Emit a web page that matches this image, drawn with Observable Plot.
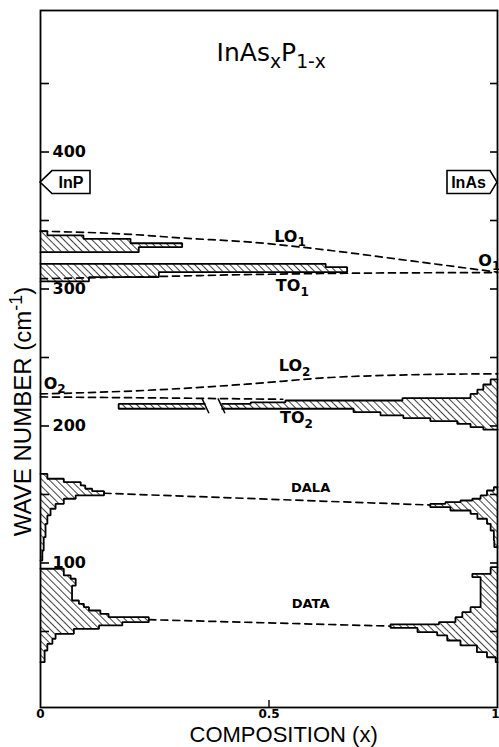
<!DOCTYPE html>
<html><head><meta charset="utf-8">
<script src="https://cdn.jsdelivr.net/npm/d3@7"></script>
<script src="https://cdn.jsdelivr.net/npm/@observablehq/plot@0.6"></script>
<style>
html,body{margin:0;padding:0;background:#fff;}
#chart{width:499px;height:747px;overflow:hidden;}
</style></head><body><div id="chart"></div>
<script>
// ---------------- data ----------------
const xTickLabelValues = [0, 0.5];
const xTickLabels = ["0", "0.5"];
const xEndTickValue = 1;
const xEndTickLabel = "1";
const yTickValues = [50, 100, 150, 200, 250, 300, 350, 400, 450];
const yTickLabelValues = [100, 200, 300, 400];

// histograms: bin edges (cm-1, top -> bottom) and bar lengths (composition units from the axis)
const lo1LeftEdges = [342.2, 339.1, 336.6, 333.4, 330.5, 326.9];
const lo1LeftLens  = [0.015, 0.094, 0.197, 0.310, 0.215];
const to1LeftEdges = [318.4, 315.9, 312.3, 308.6, 305.5];
const to1LeftLens  = [0.624, 0.671, 0.259, 0.106];
const to2RightEdges = [234.0, 230.3, 226.6, 223.4, 220.4, 218.6, 217.2, 216.1, 212.6, 210.1, 207.7, 205.8, 203.6, 201.5, 199.1, 197.4];
const to2RightLens  = [0.015, 0.031, 0.044, 0.059, 0.208, 0.464, 0.540, 0.829, 0.315, 0.256, 0.206, 0.147, 0.088, 0.059, 0.031];
const dalaLeftEdges = [165.1, 161.5, 159.0, 156.6, 154.2, 152.4, 149.3, 146.9, 143.2, 139.6, 134.7, 128.6, 118.8, 109.1, 101.8];
const dalaLeftLens  = [0.015, 0.051, 0.088, 0.098, 0.113, 0.139, 0.077, 0.051, 0.033, 0.022, 0.015, 0.011, 0.007, 0.004];
const dalaRightEdges = [155.3, 152.9, 149.3, 146.9, 145.6, 144.4, 143.2, 140.7, 138.3, 135.9, 132.3, 128.6, 123.7, 116.4, 111.5];
const dalaRightLens  = [0.008, 0.023, 0.037, 0.055, 0.081, 0.114, 0.147, 0.103, 0.059, 0.044, 0.023, 0.015, 0.008, 0.007];
const dataLeftEdges = [95.8, 90.9, 88.5, 83.4, 72.6, 70.2, 67.7, 65.3, 62.9, 60.4, 56.8, 54.4, 51.9, 48.3, 44.7, 41.0, 36.1, 27.6];
const dataLeftLens  = [0.051, 0.066, 0.077, 0.069, 0.084, 0.095, 0.106, 0.131, 0.149, 0.237, 0.179, 0.128, 0.073, 0.033, 0.026, 0.015, 0.009];
const dataRightEdges = [96.9, 92.1, 89.6, 67.7, 64.1, 60.4, 56.8, 55.2, 52.6, 49.5, 47.1, 43.4, 39.8, 34.9, 31.2, 27.6];
const dataRightLens  = [0.015, 0.055, 0.037, 0.059, 0.077, 0.092, 0.128, 0.234, 0.175, 0.132, 0.110, 0.081, 0.045, 0.023, 0.004];

// dashed mode-frequency curves
const lo1X = [0, 0.2, 0.31, 0.46, 0.635, 0.8, 1];
const lo1Y = [342.2, 339.8, 337.2, 334.2, 328.1, 321.0, 312.3];
const to1X = [0, 0.24, 0.45, 0.67, 1];
const to1Y = [307.5, 309.0, 310.5, 311.5, 312.0];
const lo2X = [0, 0.25, 0.45, 0.635, 0.8, 1];
const lo2Y = [223.4, 226.3, 230.5, 235.4, 237.3, 238.1];
const to2X = [0, 0.25, 0.53];
const to2Y = [221.2, 220.5, 219.5];
const dalaX = [0.139, 0.853];
const dalaY = [150.9, 142.3];
const dataX = [0.237, 0.766];
const dataY = [58.6, 53.9];

// scale break drawn on the TO2 bar
const breakX = [0.362, 0.397];
const breakY = [212.6, 216.1];

// labels
const opticLabels = ["LO_{1}", "TO_{1}", "LO_{2}", "TO_{2}"];
const opticLabelX = [0.546, 0.551, 0.556, 0.560];
const opticLabelY = [338.3, 302.0, 243.6, 205.8];
const acousticLabels = ["DALA", "DATA"];
const acousticLabelX = [0.591, 0.591];
const acousticLabelY = [155.1, 70.4];
const endLabels = ["O_{1}", "O_{2}"];
const endLabelX = [0.958, 0.007];
const endLabelY = [320.8, 231.0];
const tagText = ["InP", "InAs"];
const tagX = [0, 1];
const tagY = [377.7, 377.7];
const titleText = "InAs_{x}P_{1-x}";
const titleX = 0.505, titleY = 472.3;
const xTitle = "COMPOSITION (x)";
const xTitleX = 0.532;
const yTitle = "WAVE NUMBER (cm^{-1})";
const yTitleY = 210.6;

// ---------------- helpers ----------------
const yDomain = [-5.5, 503.3];
const zip = (xs, ys) => xs.map((x, i) => ({x, y: ys[i]}));
function bins(edges, lens, side) {
  return lens.map((l, i) => ({
    x1: side === "left" ? 0 : 1 - l,
    x2: side === "left" ? l : 1,
    y1: edges[i], y2: edges[i + 1]
  }));
}
function outline(edges, lens, side) {
  const b = side === "left" ? 0 : 1;
  const f = l => side === "left" ? l : 1 - l;
  const pts = [{x: b, y: edges[0]}];
  lens.forEach((l, i) => { pts.push({x: f(l), y: edges[i]}); pts.push({x: f(l), y: edges[i + 1]}); });
  pts.push({x: b, y: edges[edges.length - 1]});
  return pts;
}
const hists = [
  [lo1LeftEdges, lo1LeftLens, "left"],
  [to1LeftEdges, to1LeftLens, "left"],
  [to2RightEdges, to2RightLens, "right"],
  [dalaLeftEdges, dalaLeftLens, "left"],
  [dalaRightEdges, dalaRightLens, "right"],
  [dataLeftEdges, dataLeftLens, "left"],
  [dataRightEdges, dataRightLens, "right"]
];
const dashed = [[lo1X, lo1Y], [to1X, to1Y], [lo2X, lo2Y], [to2X, to2Y], [dalaX, dalaY], [dataX, dataY]];

const SANS = "Liberation Sans, Arial, sans-serif";
const WIDE = "DejaVu Sans, Verdana, sans-serif";

function breakMark(index, scales) {
  const {x, y} = scales;
  const g = d3.create("svg:g");
  const top = y(breakY[1]), bot = y(breakY[0]);
  g.append("rect").attr("x", x(breakX[0])).attr("width", x(breakX[1]) - x(breakX[0]))
    .attr("y", top - 2).attr("height", bot - top + 4).attr("fill", "white");
  for (const bx of breakX) {
    const cx = x(bx);
    g.append("line").attr("x1", cx - 3.5).attr("y1", top - 5).attr("x2", cx + 3.5).attr("y2", bot + 5)
      .attr("stroke", "black").attr("stroke-width", 1.5);
  }
  return g.node();
}
function tagMark(index, scales) {
  const {x, y} = scales;
  const g = d3.create("svg:g");
  const points = [12, 7];
  for (let i = 0; i < tagText.length; i++) {
    const px = x(tagX[i]), py = y(tagY[i]);
    const dir = tagX[i] < 0.5 ? 1 : -1;
    const h = 11.5, p = points[i], w = 50;
    const pts = [[px, py], [px + dir * p, py - h], [px + dir * w, py - h], [px + dir * w, py + h], [px + dir * p, py + h]];
    g.append("path").attr("d", "M" + pts.map(q => q.join(",")).join("L") + "Z")
      .attr("fill", "white").attr("stroke", "black").attr("stroke-width", 1.6).attr("stroke-linejoin", "miter");
    g.append("text").attr("x", px + dir * (p + w) / 2).attr("y", py).attr("dy", "0.36em")
      .attr("text-anchor", "middle").attr("font-family", SANS).attr("font-weight", "bold")
      .attr("font-size", 16).attr("fill", "black").text(tagText[i]);
  }
  return g.node();
}

const plot = Plot.plot({
  width: 499, height: 747,
  marginTop: 10, marginRight: 2, marginBottom: 40, marginLeft: 40,
  x: {domain: [0, 1], axis: null},
  y: {domain: yDomain, axis: null},
  style: {background: "white", color: "black", fontFamily: SANS},
  marks: [
    ...hists.map(([e, l, s]) => Plot.rect(bins(e, l, s), {x1: "x1", x2: "x2", y1: "y1", y2: "y2", fill: "url(#hatch)"})),
    ...hists.map(([e, l, s]) => Plot.line(outline(e, l, s), {x: "x", y: "y", stroke: "black", strokeWidth: 1.8, strokeLinejoin: "miter"})),
    breakMark,
    ...dashed.map(([xs, ys]) => Plot.line(zip(xs, ys), {x: "x", y: "y", stroke: "black", strokeWidth: 1.7, strokeDasharray: "7,5", curve: "monotone-x"})),
    Plot.frame({stroke: "black", strokeWidth: 1.8}),
    Plot.ruleY(yTickValues, {y: d => d, x1: 0, x2: 0, insetRight: -9, stroke: "black", strokeWidth: 1.6}),
    Plot.ruleY(yTickValues, {y: d => d, x1: 1, x2: 1, insetLeft: -7, stroke: "black", strokeWidth: 1.6}),
    Plot.ruleX([0.5], {x: d => d, y1: yDomain[0], y2: yDomain[0], insetTop: -7, stroke: "black", strokeWidth: 1.4}),
    Plot.text(yTickLabelValues, {x: 0, y: d => d, text: d => String(d), textAnchor: "start", dx: 12,
      fontFamily: WIDE, fontWeight: "bold", fontSize: 16, fill: "black"}),
    Plot.text(xTickLabelValues, {x: d => d, text: (d, i) => xTickLabels[i], frameAnchor: "bottom", lineAnchor: "middle", dy: 6.5,
      fontFamily: WIDE, fontWeight: "bold", fontSize: 12, fill: "black"}),
    Plot.text([xEndTickValue], {x: d => d, text: () => xEndTickLabel, frameAnchor: "bottom", lineAnchor: "middle", textAnchor: "end", dy: 6.5, dx: 2,
      fontFamily: WIDE, fontWeight: "bold", fontSize: 12, fill: "black"}),
    Plot.text(opticLabels, {x: (d, i) => opticLabelX[i], y: (d, i) => opticLabelY[i], text: d => d,
      fontFamily: WIDE, fontWeight: "bold", fontSize: 16, fill: "black"}),
    Plot.text(acousticLabels, {x: (d, i) => acousticLabelX[i], y: (d, i) => acousticLabelY[i], text: d => d,
      fontFamily: WIDE, fontWeight: "bold", fontSize: 13, fill: "black"}),
    Plot.text(endLabels, {x: (d, i) => endLabelX[i], y: (d, i) => endLabelY[i], text: d => d, textAnchor: "start",
      fontFamily: WIDE, fontWeight: "bold", fontSize: 16, fill: "black"}),
    Plot.text([titleText], {x: titleX, y: titleY, text: d => d, fontFamily: WIDE, fontSize: 25, fill: "black"}),
    Plot.text([xTitle], {x: xTitleX, frameAnchor: "bottom", lineAnchor: "middle", dy: 27.5, text: d => d, fontFamily: SANS, fontSize: 22, fill: "black"}),
    Plot.text([yTitle], {frameAnchor: "left", textAnchor: "middle", lineAnchor: "middle", y: yTitleY, dx: -17, rotate: -90, text: d => d, fontFamily: SANS, fontSize: 24, fill: "black"}),
    tagMark
  ]
});

document.getElementById("chart").appendChild(plot);

// hatch pattern
const NS = "http://www.w3.org/2000/svg";
const defs = document.createElementNS(NS, "defs");
defs.innerHTML = '<pattern id="hatch" patternUnits="userSpaceOnUse" width="5" height="5" patternTransform="rotate(-45)">' +
  '<line x1="0" y1="0" x2="0" y2="5" stroke="black" stroke-width="1.5"/></pattern>';
plot.insertBefore(defs, plot.firstChild);

// sub/superscripts as real tspans
d3.select(plot).selectAll("text").each(function() {
  const s = this.textContent;
  if (!/[_^]\{/.test(s)) return;
  const fs = parseFloat(getComputedStyle(this).fontSize) || 16;
  const parts = []; const re = /([_^])\{([^}]*)\}/g; let last = 0, m;
  while ((m = re.exec(s))) {
    if (m.index > last) parts.push({t: s.slice(last, m.index), k: ""});
    parts.push({t: m[2], k: m[1]}); last = re.lastIndex;
  }
  if (last < s.length) parts.push({t: s.slice(last), k: ""});
  this.textContent = "";
  let cur = 0;
  for (const p of parts) {
    const ts = document.createElementNS(NS, "tspan");
    const target = p.k === "_" ? 0.3 * fs : p.k === "^" ? -0.4 * fs : 0;
    ts.setAttribute("dy", target - cur); cur = target;
    if (p.k) ts.setAttribute("font-size", 0.75 * fs);
    ts.textContent = p.t;
    this.appendChild(ts);
  }
});
</script></body></html>
